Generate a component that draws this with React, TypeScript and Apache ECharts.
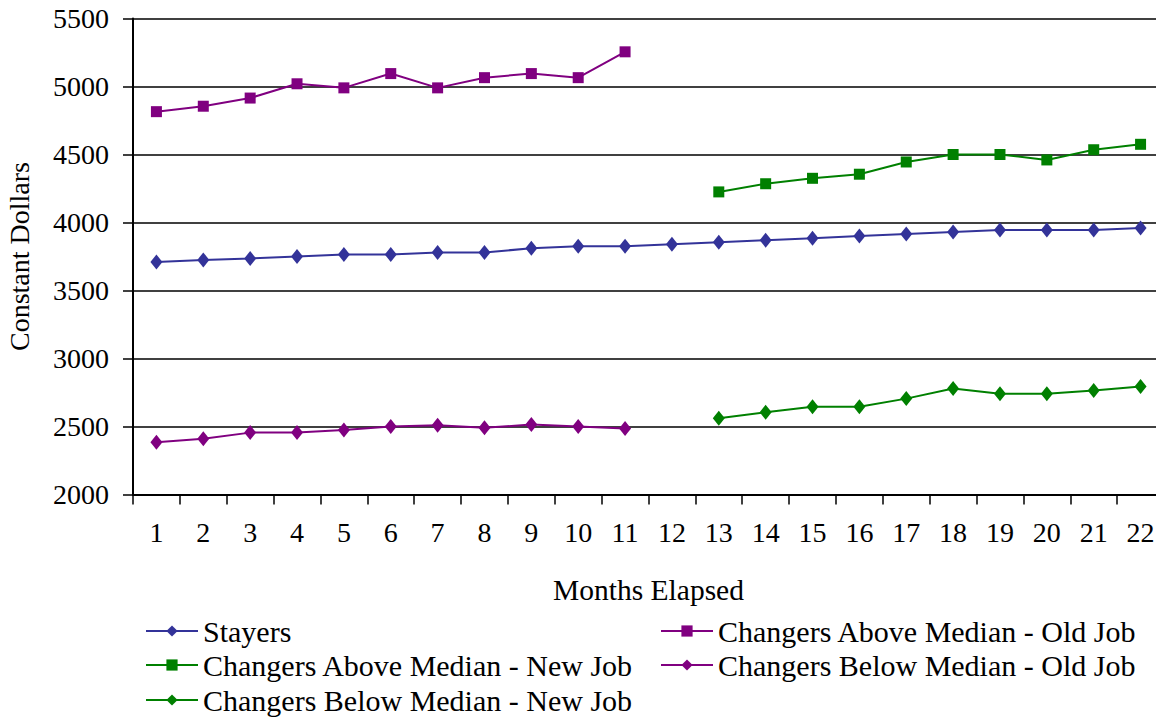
import React, { useEffect, useRef } from "react";
import * as echarts from "echarts";

const months = ["1","2","3","4","5","6","7","8","9","10","11","12","13","14","15","16","17","18","19","20","21","22"];

const stayers = [3710,3725,3735,3750,3765,3765,3780,3780,3810,3825,3825,3840,3855,3870,3885,3900,3915,3930,3945,3945,3945,3960];
const aboveOld = [4815,4855,4915,5020,4990,5095,4990,5065,5095,5065,5255,null,null,null,null,null,null,null,null,null,null,null];
const aboveNew = [null,null,null,null,null,null,null,null,null,null,null,null,4225,4285,4325,4355,4445,4500,4500,4460,4535,4575];
const belowOld = [2385,2410,2455,2455,2475,2500,2510,2490,2515,2500,2485,null,null,null,null,null,null,null,null,null,null,null];
const belowNew = [null,null,null,null,null,null,null,null,null,null,null,null,2560,2605,2645,2645,2705,2780,2740,2740,2765,2795];

const FONT = '"Liberation Serif", "Times New Roman", serif';
const BLUE = "#333399";
const PURPLE = "#800080";
const GREEN = "#008000";

const S1 = "Stayers";
const S2 = "Changers Above Median - Old Job";
const S3 = "Changers Above Median - New Job";
const S4 = "Changers Below Median - Old Job";
const S5 = "Changers Below Median - New Job";

export default function App() {
  const ref = useRef<HTMLDivElement>(null);
  useEffect(() => {
    document.body.style.margin = "0";
    const chart = echarts.init(ref.current!, null, { renderer: "svg" });
    const mk = (name: string, data: (number | null)[], color: string, symbol: string, size: any) => ({
      name,
      type: "line",
      data,
      symbol,
      symbolSize: size,
      showAllSymbol: true,
      connectNulls: false,
      lineStyle: { color, width: 2 },
      itemStyle: { color },
    });
    const lg = (name: string, left: number, top: number) => ({
      orient: "horizontal",
      left,
      top,
      itemWidth: 52,
      itemHeight: 14,
      itemGap: 0,
      padding: 0,
      textStyle: { fontFamily: FONT, fontSize: 30, color: "#000", lineHeight: 32 },
      data: [name],
    });
    chart.setOption({
      animation: false,
      backgroundColor: "#ffffff",
      textStyle: { fontFamily: FONT, color: "#000" },
      grid: { left: 133, right: -8, top: 18.5, bottom: 222.5, containLabel: false, outerBoundsMode: "none" },
      xAxis: {
        type: "category",
        data: months,
        boundaryGap: true,
        name: "Months Elapsed",
        nameLocation: "middle",
        nameGap: 80,
        nameTextStyle: { fontFamily: FONT, fontSize: 29.5, color: "#000" },
        axisLine: { lineStyle: { color: "#000", width: 2 } },
        axisTick: { show: true, length: 10, inside: false, interval: 0, lineStyle: { color: "#000", width: 1.5 } },
        axisLabel: { fontFamily: FONT, fontSize: 28, color: "#000", margin: 24, interval: 0 },
        splitLine: { show: false },
      },
      yAxis: {
        type: "value",
        min: 2000,
        max: 5500,
        interval: 500,
        name: "Constant Dollars",
        nameLocation: "middle",
        nameGap: 100,
        nameRotate: 90,
        nameTextStyle: { fontFamily: FONT, fontSize: 28, color: "#000" },
        axisLine: { show: true, lineStyle: { color: "#000", width: 2 } },
        axisTick: { show: true, length: 10, inside: false, lineStyle: { color: "#000", width: 1.5 } },
        axisLabel: { fontFamily: FONT, fontSize: 28, color: "#000", margin: 24, formatter: (v: number) => String(v) },
        splitLine: { show: true, lineStyle: { color: "#000", width: 1.5 } },
      },
      legend: [
        lg(S1, 145, 615),
        lg(S3, 145, 649),
        lg(S5, 145, 684),
        lg(S2, 660, 615),
        lg(S4, 660, 649),
      ],
      series: [
        mk(S1, stayers, BLUE, "diamond", [12, 15]),
        mk(S2, aboveOld, PURPLE, "rect", 11),
        mk(S3, aboveNew, GREEN, "rect", 11),
        mk(S4, belowOld, PURPLE, "diamond", [12, 15]),
        mk(S5, belowNew, GREEN, "diamond", [12, 15]),
      ],
    });
    return () => chart.dispose();
  }, []);
  return <div ref={ref} style={{ position: "absolute", left: 0, top: 0, width: 1156, height: 717 }} />;
}
